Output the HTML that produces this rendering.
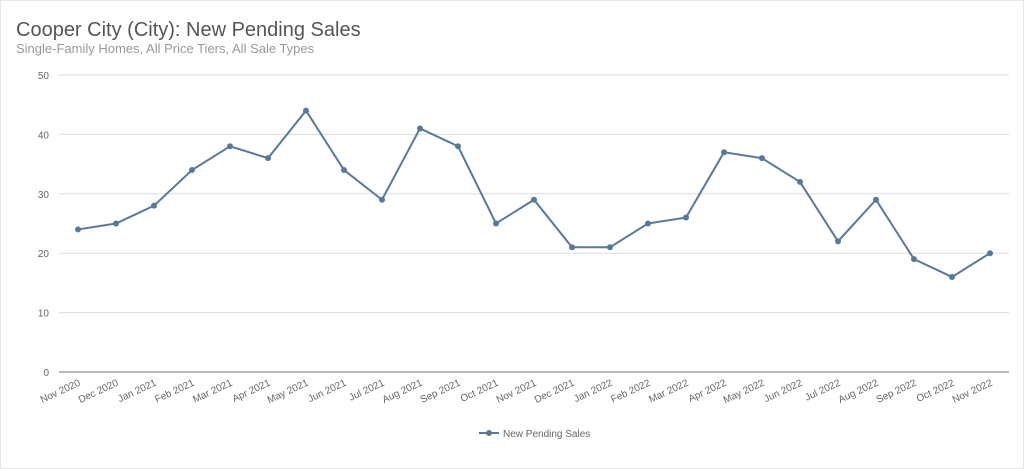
<!DOCTYPE html>
<html><head><meta charset="utf-8"><style>
body{margin:0;background:#fff;font-family:"Liberation Sans",sans-serif;}
#wrap{position:relative;width:1024px;height:469px;overflow:hidden;border:1px solid #e6e6e6;box-sizing:border-box;}
</style></head><body>
<div id="wrap">
<svg id="chart" width="1024" height="469">
<text x="15" y="35" font-size="20" fill="#555">Cooper City (City): New Pending Sales</text>
<text x="15" y="52" font-size="13" fill="#999">Single-Family Homes, All Price Tiers, All Sale Types</text>
<g id="grid"></g><g id="xl"></g><g id="series"></g>
<g>
<line x1="478" y1="432" x2="498" y2="432" stroke="#58799a" stroke-width="2"/>
<circle cx="488" cy="432" r="3" fill="#58799a"/>
<text x="502" y="436" font-size="10" fill="#666">New Pending Sales</text>
</g>
</svg></div>
<script>
const categories=["Nov 2020","Dec 2020","Jan 2021","Feb 2021","Mar 2021","Apr 2021","May 2021","Jun 2021","Jul 2021","Aug 2021","Sep 2021","Oct 2021","Nov 2021","Dec 2021","Jan 2022","Feb 2022","Mar 2022","Apr 2022","May 2022","Jun 2022","Jul 2022","Aug 2022","Sep 2022","Oct 2022","Nov 2022"];
const values=[24,25,28,34,38,36,44,34,29,41,38,25,29,21,21,25,26,37,36,32,22,29,19,16,20];
const yTicks=[0,10,20,30,40,50];
const NS="http://www.w3.org/2000/svg";
const x0=77,x1=989,yb=371,yt=74,ymax=50;
const xs=i=>x0+(x1-x0)*i/(categories.length-1);
const ys=v=>yb-(yb-yt)*v/ymax;
function mk(t,a,p){const e=document.createElementNS(NS,t);for(const k in a)e.setAttribute(k,a[k]);p.appendChild(e);return e;}
const grid=document.getElementById('grid');
yTicks.forEach(v=>{
 const l=mk('line',{x1:58,x2:1008,y1:ys(v),y2:ys(v),stroke:v===0?'#777':'#ddd','stroke-width':1},grid);
 
 
 const t=mk('text',{x:48,y:ys(v)+4,'text-anchor':'end','font-size':10,fill:'#666'},grid);
 t.textContent=v;
 
 
});
const xl=document.getElementById('xl');
categories.forEach((c,i)=>{
 const t=mk('text',{x:xs(i)+3,y:384,'text-anchor':'end','font-size':10,fill:'#666',transform:`rotate(-25 ${xs(i)+3} 384)`},xl);
 t.textContent=c;
 
 
});
const s=document.getElementById('series');
const p=mk('polyline',{points:values.map((v,i)=>xs(i)+','+ys(v)).join(' '),fill:'none',stroke:'#58799a','stroke-width':2},s);


values.forEach((v,i)=>{
 const c=mk('circle',{cx:xs(i),cy:ys(v),r:3,fill:'#58799a'},s);
 
 
});
</script>
</body></html>
